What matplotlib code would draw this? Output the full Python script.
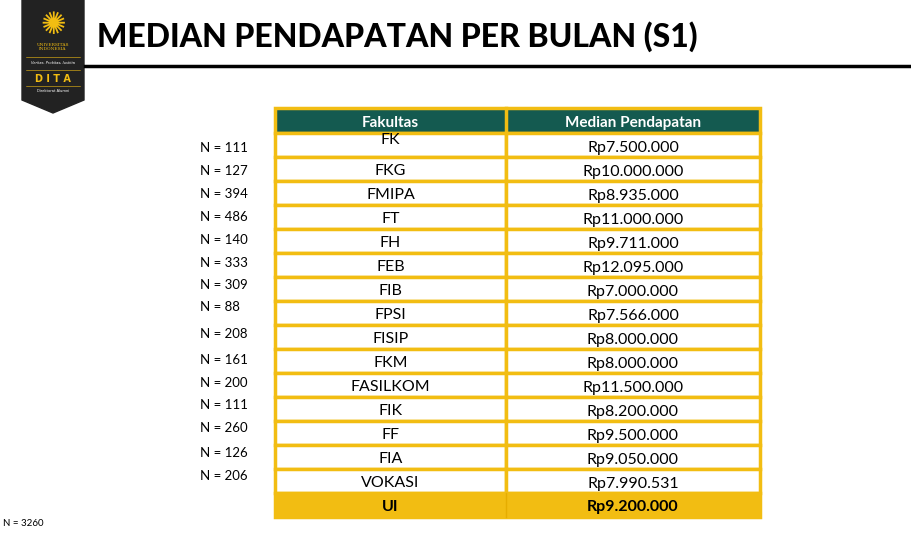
import matplotlib
matplotlib.use("Agg")
import matplotlib.pyplot as plt
from matplotlib.patches import Rectangle, Polygon

fakultas = ["FK","FKG","FMIPA","FT","FH","FEB","FIB","FPSI","FISIP","FKM","FASILKOM","FIK","FF","FIA","VOKASI"]
median = ["Rp7.500.000","Rp10.000.000","Rp8.935.000","Rp11.000.000","Rp9.711.000","Rp12.095.000",
          "Rp7.000.000","Rp7.566.000","Rp8.000.000","Rp8.000.000","Rp11.500.000","Rp8.200.000",
          "Rp9.500.000","Rp9.050.000","Rp7.990.531"]
n_values = [111,127,394,486,140,333,309,88,208,161,200,111,260,126,206]
n_label_y = [148,171,194,217,240,263,285,307,334,360,383,405,428,453,476]
total_label = "UI"
total_value = "Rp9.200.000"
total_n = 3260

W, H = 911, 534
fig = plt.figure(figsize=(W/100, H/100), dpi=100)
ax = fig.add_axes([0, 0, 1, 1])
ax.set_xlim(0, W); ax.set_ylim(H, 0); ax.axis("off")

GREEN = "#145a50"; GOLD = "#f2bd12"; DARK = "#222222"
font = "Lato"

# logo
ax.add_patch(Polygon([(22,0),(84,0),(84,100),(53,113),(22,100)], closed=True, color=DARK))
ax.text(53, 25, "✺", color=GOLD, ha="center", va="center", fontsize=22, family="DejaVu Sans")
ax.text(53, 47, "UNIVERSITAS\nINDONESIA", color=GOLD, ha="center", va="center", fontsize=3.2, family="DejaVu Serif", linespacing=1.0)
ax.plot([26,80],[57,57], color=GOLD, lw=0.4); ax.plot([26,80],[70,70], color=GOLD, lw=0.4)
ax.text(53, 63.5, "Veritas, Probitas, Iustitia", color="white", ha="center", va="center", fontsize=2.6, style="italic")
ax.text(53, 79, "D I T A", color=GOLD, ha="center", va="center", fontsize=7, weight="bold")
ax.plot([26,80],[86,86], color=GOLD, lw=0.4)
ax.text(53, 91, "Direktorat Alumni", color="white", ha="center", va="center", fontsize=2.6)

# title
ax.text(97, 37, "MEDIAN PENDAPATAN PER BULAN (S1)", ha="left", va="center", fontsize=23, weight="black", family=font, color="black")
ax.plot([85, W], [66, 66], color="black", lw=2.5)

# table
x0, xm, x1 = 275, 506, 760
top, hb, rh = 108, 133, 24
ax.add_patch(Rectangle((x0, top), x1-x0, hb-top, facecolor=GREEN, edgecolor=GOLD, lw=2.5))
ax.plot([xm, xm], [top, hb], color=GOLD, lw=2.5)
ax.text((x0+xm)/2, 123, "Fakultas", color="white", ha="center", va="center", fontsize=11, weight="bold", family=font)
ax.text((xm+x1)/2, 123, "Median Pendapatan", color="white", ha="center", va="center", fontsize=11, weight="bold", family=font)

for i, (f, m) in enumerate(zip(fakultas, median)):
    y = hb + i*rh
    ax.add_patch(Rectangle((x0, y), xm-x0, rh, facecolor="white", edgecolor=GOLD, lw=2.5))
    ax.add_patch(Rectangle((xm, y), x1-xm, rh, facecolor="white", edgecolor=GOLD, lw=2.5))
    dy = -5 if i == 0 else 2
    ax.text((x0+xm)/2, y+rh/2+dy, f, ha="center", va="center", fontsize=11.5, family=font)
    ax.text((xm+x1)/2, y+rh/2+3, m, ha="center", va="center", fontsize=11.5, family=font)
    ax.text(200, n_label_y[i], f"N = {n_values[i]}", ha="left", va="center", fontsize=9.5, family=font)

y = hb + len(fakultas)*rh
ax.add_patch(Rectangle((x0, y), x1-x0, rh, facecolor=GOLD, edgecolor=GOLD, lw=2.5))
ax.plot([xm, xm], [y, y+rh], color="#e6ad00", lw=1)
ax.text((x0+xm)/2, y+rh/2+2, total_label, ha="center", va="center", fontsize=11.5, weight="bold", family=font)
ax.text((xm+x1)/2, y+rh/2+2, total_value, ha="center", va="center", fontsize=11.5, weight="bold", family=font)
ax.text(3, 523, f"N = {total_n}", ha="left", va="center", fontsize=7, family=font)

fig.savefig("out.png", dpi=100)
